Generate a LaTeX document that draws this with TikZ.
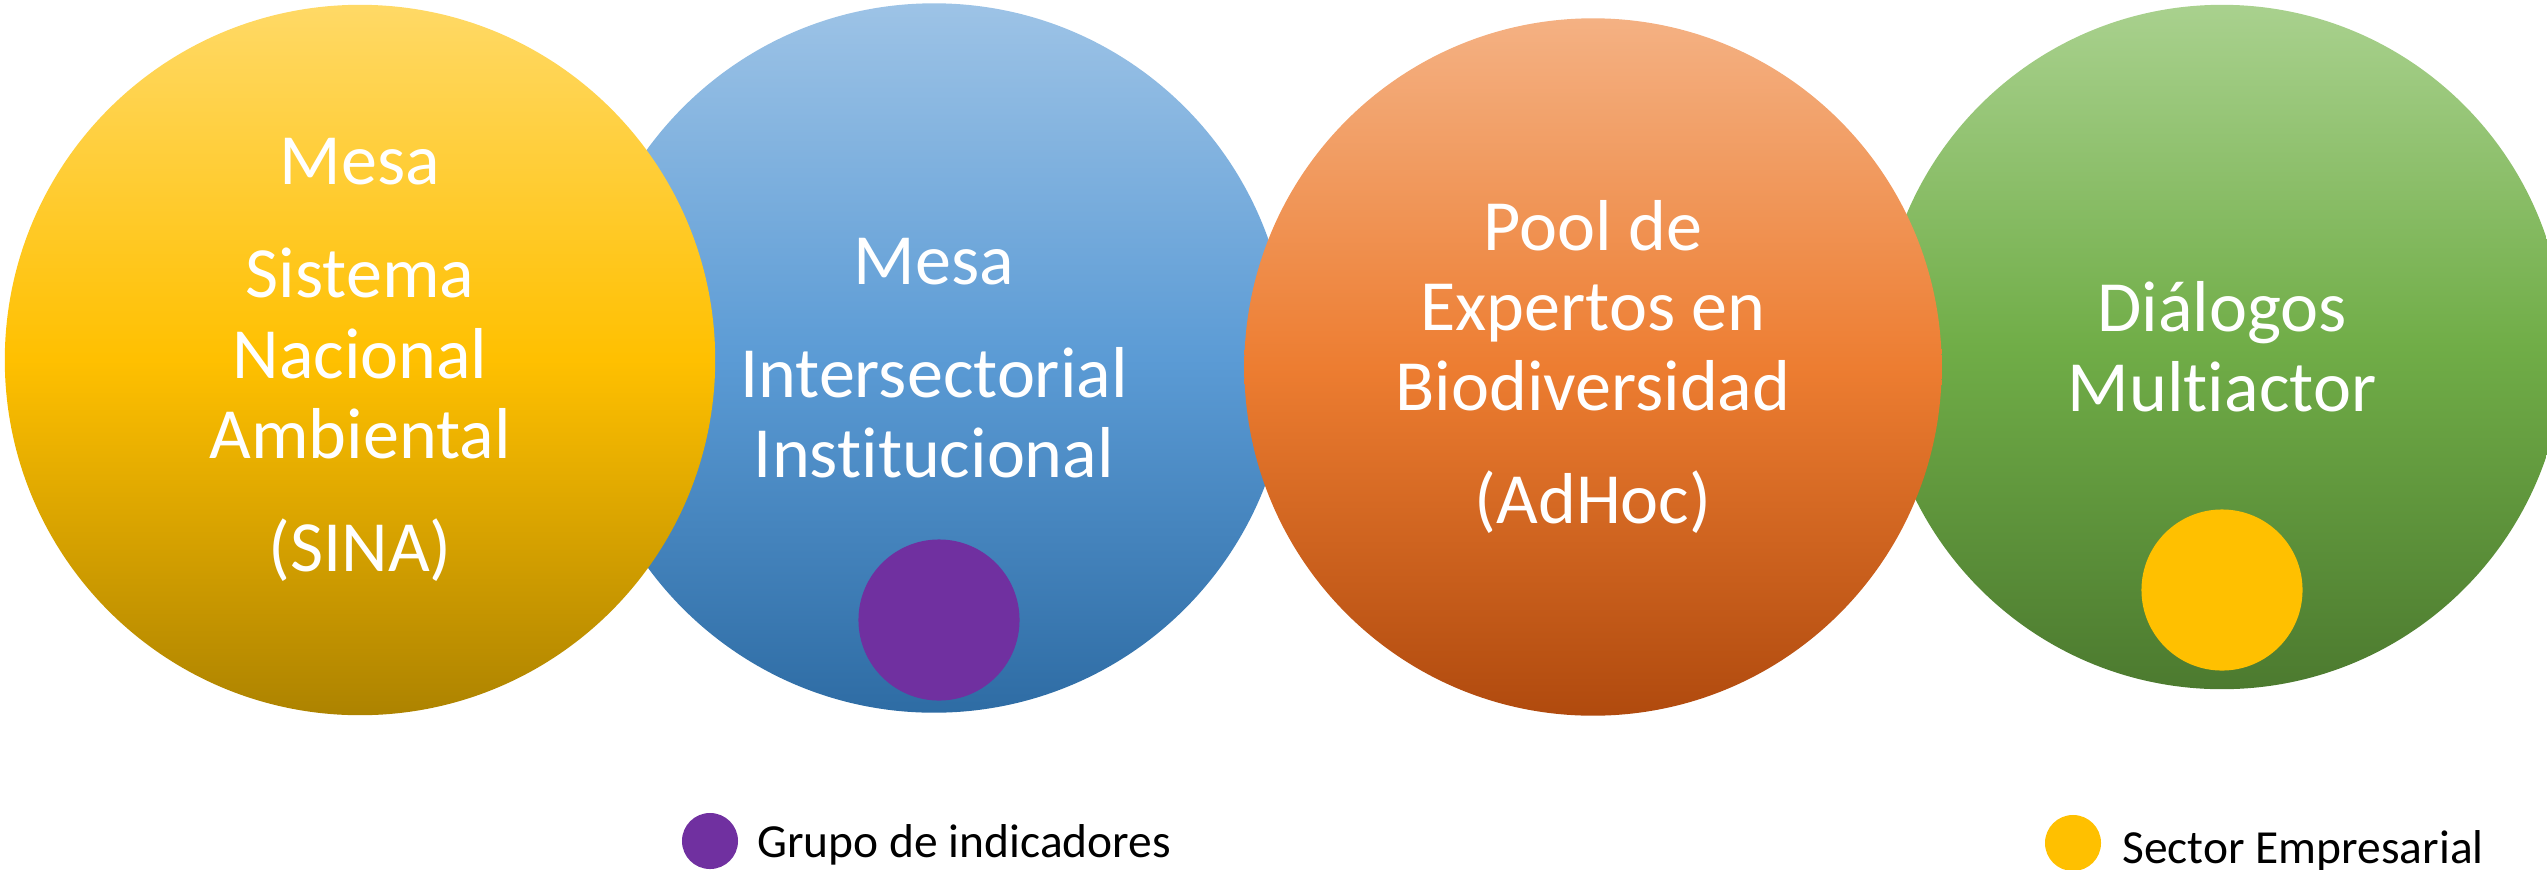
\documentclass[tikz,border=0pt]{standalone}
\usepackage{fontspec}
\setmainfont{Carlito}[Ligatures=NoCommon]
\usepackage{tikz}
\usetikzlibrary{positioning}
\definecolor{sinaTop}{HTML}{FFD966}
\definecolor{sinaMid}{HTML}{FFC000}
\definecolor{sinaBot}{HTML}{AD8300}
\definecolor{mesaTop}{HTML}{9DC3E6}
\definecolor{mesaMid}{HTML}{5B9BD5}
\definecolor{mesaBot}{HTML}{2E6CA4}
\definecolor{poolTop}{HTML}{F4B183}
\definecolor{poolMid}{HTML}{ED7D31}
\definecolor{poolBot}{HTML}{B04A0E}
\definecolor{dialTop}{HTML}{A9D18E}
\definecolor{dialMid}{HTML}{70AD47}
\definecolor{dialBot}{HTML}{4C7A2F}
\definecolor{grupoC}{HTML}{7030A0}
\definecolor{sectorC}{HTML}{FFC000}
\tikzstyle{bubble}=[
	 circle, inner sep=0pt,
	 text=white, align=center,
	 font=\fontsize{20.5}{22.8}\selectfont
    ]
\tikzstyle{dot}=[circle, inner sep=0pt, minimum size=1.61cm]
\tikzstyle{key}=[circle, inner sep=0pt, minimum size=0.56cm]
\tikzstyle{keytext}=[font=\fontsize{13.5}{16}\selectfont, inner sep=0pt]
\newcommand{\bgap}{\\[9.4pt]}

\begin{document}
\begin{tikzpicture}[x=0.01cm,y=-0.01cm]
\useasboundingbox (0,0) rectangle (2547,869);

\node[bubble,minimum size=7.09cm,top color=mesaTop,bottom color=mesaBot,middle color=mesaMid] (mesa) at (934,358) {Mesa\bgap Intersectorial\\ Institucional};
\node[bubble,minimum size=6.84cm,top color=dialTop,bottom color=dialBot,middle color=dialMid] (dialogos) at (2222,347) {Diálogos\\ Multiactor};
\node[bubble,minimum size=7.10cm,top color=sinaTop,bottom color=sinaBot,middle color=sinaMid] (sina) at (360,360) {Mesa\bgap Sistema\\ Nacional\\ Ambiental\bgap (SINA)};
\node[bubble,minimum size=6.97cm,top color=poolTop,bottom color=poolBot,middle color=poolMid] (pool) at (1593,367) {Pool de\\ Expertos en\\ Biodiversidad\bgap (AdHoc)};

\node[dot,fill=grupoC] (grupo) at (939,620) {};
\node[dot,fill=sectorC] (sector) at (2222,590) {};

\node[key,fill=grupoC] (grupoleg) at (710,841) {};
\node[keytext,right=0.18cm of grupoleg,yshift=-1pt] (grupotxt) {Grupo de indicadores};
\node[key,fill=sectorC] (sectorleg) at (2073,843) {};
\node[keytext,right=0.2cm of sectorleg,yshift=-2.3pt] (sectortxt) {Sector Empresarial};

\end{tikzpicture}
\end{document}
